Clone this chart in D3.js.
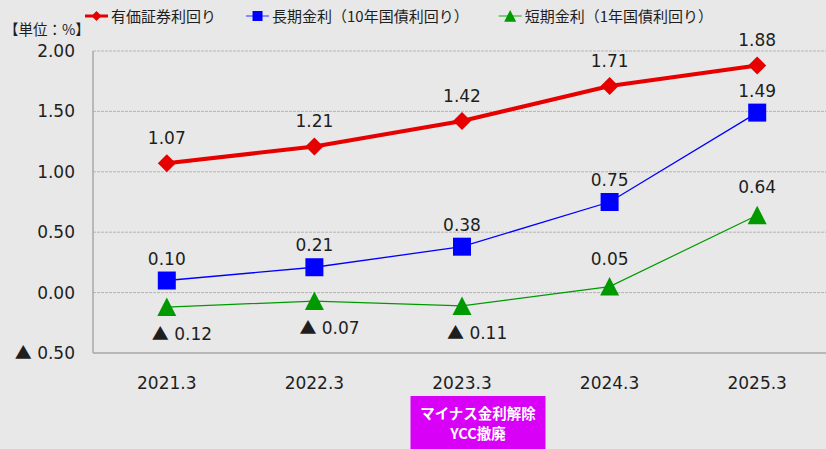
<!DOCTYPE html>
<html>
<head>
<meta charset="utf-8">
<script src="https://cdn.jsdelivr.net/npm/d3@7"></script>
<style>
  body { margin: 0; background: #e8e8e8; }
  svg { display: block; font-family: "DejaVu Sans", "Noto Sans CJK JP", sans-serif; }
</style>
</head>
<body>
<svg id="chart" width="826" height="449"></svg>
<script>
// data
var categories = ["2021.3", "2022.3", "2023.3", "2024.3", "2025.3"];
var seriesNames = ["有価証券利回り", "長期金利（10年国債利回り）", "短期金利（1年国債利回り）"];
var securitiesYield = [1.07, 1.21, 1.42, 1.71, 1.88];
var longRate = [0.10, 0.21, 0.38, 0.75, 1.49];
var shortRate = [-0.12, -0.07, -0.11, 0.05, 0.64];
var yTicks = [-0.5, 0, 0.5, 1.0, 1.5, 2.0];
var noteLines = ["マイナス金利解除", "YCC撤廃"];

// ▲ is used for minus numbers, drawn with the CJK font so it is full width
function putNumber(sel) {
  sel.each(function(v) {
    var t = d3.select(this);
    if (v < 0) {
      t.append("tspan").attr("font-family", "'Noto Sans CJK JP', sans-serif").text("▲");
      t.append("tspan").text(" " + d3.format(".2f")(-v));
    } else {
      t.text(d3.format(".2f")(v));
    }
  });
}

var svg = d3.select("#chart");
var plotLeft = 93, plotTop = 51, plotBottom = 353, plotRight = 831;

var x = d3.scaleBand().domain(categories).range([plotLeft, plotRight]);
var y = d3.scaleLinear().domain([-0.5, 2.0]).range([plotBottom, plotTop]);
function cx(d, i) { return x(categories[i]) + x.bandwidth() / 2; }

// grid
svg.append("g").selectAll("line")
  .data(yTicks.filter(function(t) { return t > -0.5; }))
  .enter().append("line")
  .attr("x1", plotLeft).attr("x2", plotRight)
  .attr("y1", function(d) { return y(d); })
  .attr("y2", function(d) { return y(d); })
  .attr("stroke", "#b4b4b4")
  .attr("stroke-width", 1)
  .attr("stroke-dasharray", "3,1");

// axis lines
svg.append("line").attr("x1", plotLeft).attr("x2", plotLeft).attr("y1", plotTop).attr("y2", plotBottom)
  .attr("stroke", "#a8a8a8").attr("stroke-width", 1.5);
svg.append("line").attr("x1", plotLeft).attr("x2", plotRight).attr("y1", plotBottom).attr("y2", plotBottom)
  .attr("stroke", "#a8a8a8").attr("stroke-width", 1.5);

// y tick labels
svg.append("g").selectAll("text")
  .data(yTicks)
  .enter().append("text")
  .attr("x", 75)
  .attr("y", function(d) { return y(d) + 6; })
  .attr("text-anchor", "end")
  .attr("font-size", 17)
  .attr("fill", "#1e1e1e")
  .call(putNumber);

// x labels
svg.append("g").selectAll("text")
  .data(categories)
  .enter().append("text")
  .attr("x", function(d) { return x(d) + x.bandwidth() / 2; })
  .attr("y", 389)
  .attr("text-anchor", "middle")
  .attr("font-size", 17)
  .attr("fill", "#1e1e1e")
  .text(function(d) { return d; });

// unit
svg.append("text").attr("x", 4).attr("y", 35)
  .attr("font-size", 14.5).attr("fill", "#1e1e1e")
  .attr("font-family", "'Noto Sans CJK JP', sans-serif")
  .text("【単位：%】");

// marker shapes
var diamond = function(s) { return "M0," + (-s) + "L" + s + ",0L0," + s + "L" + (-s) + ",0Z"; };
var square = function(s) { return "M" + (-s) + "," + (-s) + "H" + s + "V" + s + "H" + (-s) + "Z"; };
var triangle = function(s) { return "M0," + (-s) + "L" + s + "," + (s * 0.95) + "L" + (-s) + "," + (s * 0.95) + "Z"; };

var series = [
  { values: securitiesYield, color: "#e60000", legendLine: "#e60000", width: 4, shape: diamond, size: 9, legSize: 5, labelDy: -19 },
  { values: longRate, color: "#0000ff", legendLine: "#6b6bff", width: 1.3, shape: square, size: 9, legSize: 5, labelDy: -16 },
  { values: shortRate, color: "#009a00", legendLine: "#5cc05c", width: 1.2, shape: triangle, size: 9.5, legSize: 6, labelDy: -22 }
];

var line = d3.line().x(cx).y(function(d) { return y(d); });

series.slice().reverse().forEach(function(s) {
  var g = svg.append("g");
  g.append("path")
    .datum(s.values)
    .attr("d", line)
    .attr("fill", "none")
    .attr("stroke", s.color)
    .attr("stroke-width", s.width);
  g.selectAll("path.m")
    .data(s.values)
    .enter().append("path")
    .attr("class", "m")
    .attr("d", s.shape(s.size))
    .attr("transform", function(d, i) { return "translate(" + cx(d, i) + "," + y(d) + ")"; })
    .attr("fill", s.color);
  g.selectAll("text")
    .data(s.values)
    .enter().append("text")
    .attr("x", function(d, i) { return d < 0 ? cx(d, i) - 15 : cx(d, i); })
    .attr("y", function(d) { return d < 0 ? y(d) + 33 : y(d) + s.labelDy; })
    .attr("text-anchor", function(d) { return d < 0 ? "start" : "middle"; })
    .attr("font-size", 17)
    .attr("fill", "#1e1e1e")
    .call(putNumber);
});

// legend
var lx = 85;
series.forEach(function(s, i) {
  var g = svg.append("g").attr("transform", "translate(" + lx + ",16)");
  g.append("line").attr("x1", 0).attr("x2", 23).attr("y1", 0).attr("y2", 0)
    .attr("stroke", s.legendLine).attr("stroke-width", i === 0 ? 3 : 1.5);
  g.append("path").attr("d", s.shape(s.legSize)).attr("transform", "translate(11.5,0)").attr("fill", s.color);
  var t = g.append("text").attr("x", 26).attr("y", 6)
    .attr("font-size", 15).attr("fill", "#1e1e1e")
    .attr("font-family", "'Noto Sans CJK JP', sans-serif")
    .text(seriesNames[i]);
  lx += 26 + t.node().getComputedTextLength() + 30;
});

// annotation box under 2023.3
var bx = x("2023.3") + x.bandwidth() / 2 + 16;
var note = svg.append("g");
note.append("rect").attr("x", bx - 67.5).attr("y", 396).attr("width", 135).attr("height", 53)
  .attr("fill", "#d900f7");
note.selectAll("text")
  .data(noteLines)
  .enter().append("text")
  .attr("x", bx)
  .attr("y", function(d, i) { return 419 + i * 19.5; })
  .attr("text-anchor", "middle")
  .attr("font-size", 14.5)
  .attr("font-weight", "bold")
  .attr("fill", "#ffffff")
  .attr("font-family", "'Noto Sans CJK JP', sans-serif")
  .text(function(d) { return d; });
</script>
</body>
</html>
